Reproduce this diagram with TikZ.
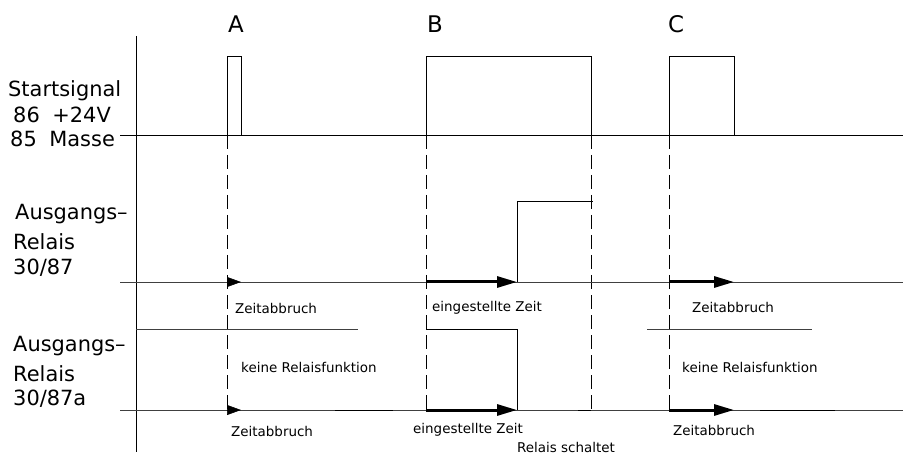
\documentclass[tikz,border=0pt]{standalone}
\usepackage{fontspec}
\setmainfont{DejaVu Sans}
\usepackage{tikz}
\usetikzlibrary{arrows.meta}

\tikzset{
	sig/.style={line width=0.9bp},
	thinsig/.style={line width=0.6bp, black!75},
	guide/.style={line width=0.6bp, dash pattern=on 14bp off 6bp},
	thinarrow/.style={line width=0.6bp, -{Triangle[length=14bp,width=10bp]}},
	fatarrow/.style={line width=3bp, -{Triangle[length=20bp,width=11bp]}},
	marklabel/.style={anchor=base, inner sep=0pt, font=\fontsize{23}{27}\selectfont},
	biglabel/.style={anchor=base west, inner sep=0pt, font=\fontsize{21}{25}\selectfont},
	smalllabel/.style={anchor=base west, inner sep=0pt, font=\fontsize{13.5}{16}\selectfont},
}

\begin{document}
\begin{tikzpicture}[x=1bp,y=-1bp]
	\useasboundingbox (0,0) rectangle (903,454);
	\foreach \x in {227,426,591,669}
		\draw[guide] (\x,135) -- (\x,410);
	\draw[sig] (136,36) -- (136,452);
	\draw[sig] (120,135) -- (903,135);
	\draw[sig] (227,135) -- (227,56) -- (241,56) -- (241,135);
	\draw[sig] (426,135) -- (426,56) -- (591,56) -- (591,135);
	\draw[sig] (669,135) -- (669,56) -- (734,56) -- (734,135);
	\draw[thinsig] (120,282) -- (903,282);
	\draw[sig] (517,282) -- (517,201) -- (593,201);
	\draw[thinsig] (136,329) -- (358,329);
	\draw[thinsig] (647,329) -- (812,329);
	\draw[sig] (426,329) -- (517,329) -- (517,410);
	\draw[thinsig] (120,410) -- (903,410);
	\foreach \a/\b in {335/393,578/591,760/835}
		\draw[sig] (\a,410) -- (\b,410);
	\foreach \y in {282,410} {
		\draw[thinarrow] (227,\y) -- (241,\y);
		\draw[fatarrow] (426,\y) -- (517,\y);
		\draw[fatarrow] (669,\y) -- (734,\y);
	}
	\node[marklabel] (markA) at (236,33) {A};
	\node[marklabel] (markB) at (435,33) {B};
	\node[marklabel] (markC) at (676,33) {C};
	\node[biglabel] (start) at (8,97) {Startsignal};
	\node[biglabel] (plus) at (13,123) {86\hspace{0.6em}+24V};
	\node[biglabel] (ground) at (10,147) {85\hspace{0.6em}Masse};
	\node[biglabel] (outA) at (15,220) {Ausgangs–};
	\node[biglabel] (relA) at (13,250) {Relais};
	\node[biglabel] (pinA) at (13,275) {30/87};
	\node[biglabel] (outB) at (13,352) {Ausgangs–};
	\node[biglabel] (relB) at (13,382) {Relais};
	\node[biglabel] (pinB) at (13,405) {30/87a};
	\node[smalllabel] (stopA) at (235,314) {Zeitabbruch};
	\node[smalllabel] (timeB) at (432,312) {eingestellte Zeit};
	\node[smalllabel] (stopC) at (692,313) {Zeitabbruch};
	\node[smalllabel] (noneA) at (241,373) {keine Relaisfunktion};
	\node[smalllabel] (noneC) at (682,373) {keine Relaisfunktion};
	\node[smalllabel] (stopA2) at (231,436) {Zeitabbruch};
	\node[smalllabel] (timeB2) at (413,433) {eingestellte Zeit};
	\node[smalllabel] (switch) at (517,452) {Relais schaltet};
	\node[smalllabel] (stopC2) at (673,435) {Zeitabbruch};
\end{tikzpicture}
\end{document}
